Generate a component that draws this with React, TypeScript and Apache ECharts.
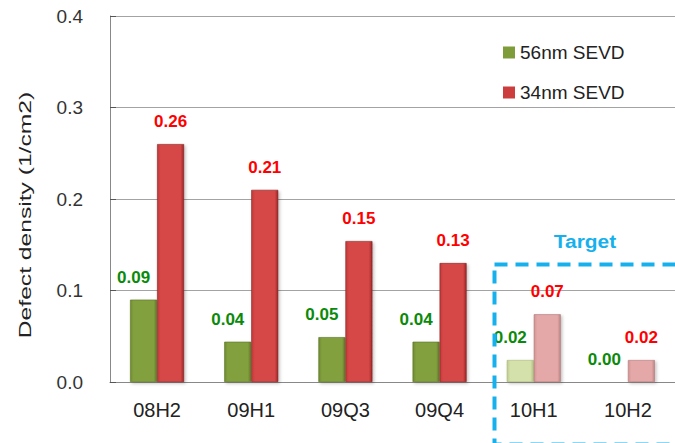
import React, { useEffect, useRef } from "react";
import * as echarts from "echarts";

const categories = ["08H2", "09H1", "09Q3", "09Q4", "10H1", "10H2"];
const sevd56 = [0.09, 0.044, 0.049, 0.044, 0.024, 0.0];
const sevd34 = [0.26, 0.21, 0.154, 0.13, 0.074, 0.024];
const targetFrom = 4; // periods from this index on are targets
const yTicks = [0, 0.1, 0.2, 0.3, 0.4];

const FONT = "'Liberation Sans', Arial, sans-serif";
const CYAN = "#16b1ec";

const bevel = (edgeL: string, mid: string, edgeR: string) =>
  new echarts.graphic.LinearGradient(0, 0, 1, 0, [
    { offset: 0, color: edgeL },
    { offset: 0.12, color: mid },
    { offset: 0.88, color: mid },
    { offset: 1, color: edgeR },
  ]);

const greenSolid = () => bevel("#6e8a31", "#82a03e", "#607a27");
const greenPale = () => bevel("#bccb8e", "#d4e1ab", "#b5c585");
const redSolid = () => bevel("#bf3a3a", "#d64646", "#9a2828");
const redPale = () => bevel("#d09494", "#e4a8a8", "#bf8585");

const shadow = {
  shadowBlur: 3,
  shadowColor: "rgba(0,0,0,0.25)",
  shadowOffsetX: 1.5,
  shadowOffsetY: 1.5,
};

export default function App() {
  const ref = useRef<HTMLDivElement>(null);

  useEffect(() => {
    document.body.style.margin = "0";
    if (!ref.current) return;
    const chart = echarts.init(ref.current, null, { renderer: "svg" });

    const greenData = sevd56.map((v, i) => ({
      value: v,
      itemStyle: {
        color: i >= targetFrom ? greenPale() : greenSolid(),
        borderColor: i >= targetFrom ? "#a9b97a" : "#5a7224",
        borderWidth: v > 0 ? 0.6 : 0,
        ...(v > 0 ? shadow : {}),
      },
    }));
    const redData = sevd34.map((v, i) => ({
      value: v,
      itemStyle: {
        color: i >= targetFrom ? redPale() : redSolid(),
        borderColor: i >= targetFrom ? "#b07878" : "#852020",
        borderWidth: 0.6,
        ...shadow,
      },
    }));

    const valueLabel = (color: string, offsetX: number) => ({
      show: true,
      position: "top",
      distance: 14,
      offset: [offsetX, 0],
      color,
      fontWeight: "bold",
      fontSize: 17,
      fontFamily: FONT,
      formatter: (p: any) => Number(p.value).toFixed(2),
    });

    chart.setOption({
      animation: false,
      backgroundColor: "#ffffff",
      textStyle: { fontFamily: FONT },
      grid: { left: 110, right: -7, top: 16, bottom: 61 },
      legend: {
        orient: "vertical",
        left: 498,
        top: 38,
        itemWidth: 12,
        itemHeight: 12,
        itemGap: 21,
        icon: "rect",
        textStyle: { fontSize: 19, color: "#222", fontFamily: FONT },
        data: [
          { name: "56nm SEVD", itemStyle: { color: "#7f9c3b" } },
          { name: "34nm SEVD", itemStyle: { color: "#cc3e3e" } },
        ],
      },
      xAxis: {
        type: "category",
        data: categories,
        axisLine: { lineStyle: { color: "#888", width: 1.2 } },
        axisTick: { length: 6, lineStyle: { color: "#555" } },
        axisLabel: { fontSize: 20, color: "#222", margin: 18, fontFamily: FONT },
      },
      yAxis: {
        type: "value",
        min: 0,
        max: 0.4,
        interval: 0.1,
        axisLine: { show: true, lineStyle: { color: "#888" } },
        axisTick: { show: true, inside: true, length: 6, lineStyle: { color: "#555" } },
        splitLine: { lineStyle: { color: "#a3a3a3" } },
        axisLabel: {
          fontSize: 19,
          color: "#333",
          margin: 27,
          fontFamily: FONT,
          formatter: (v: number) =>
            yTicks.includes(Number(v.toFixed(1))) ? v.toFixed(1) : "",
        },
      },
      series: [
        {
          name: "56nm SEVD",
          type: "bar",
          barWidth: 27,
          barGap: "0%",
          data: greenData,
          label: valueLabel("#0a8a0a", -10),
        },
        {
          name: "34nm SEVD",
          type: "bar",
          barWidth: 27,
          barGap: "0%",
          data: redData,
          label: valueLabel("#ff0000", 0),
        },
      ],
      graphic: [
        // axis title, set along the axis
        {
          type: "text",
          x: 25,
          y: 215,
          rotation: Math.PI / 2,
          scaleX: 1.45,
          style: {
            text: "Defect density (1/cm2)",
            fill: "#222",
            font: `17px ${FONT}`,
            align: "center",
            verticalAlign: "middle",
          },
        },
        // dashed frame round the target periods
        {
          type: "rect",
          left: 492,
          top: 262,
          shape: { width: 260, height: 180 },
          style: {
            fill: "none",
            stroke: CYAN,
            lineWidth: 4,
            lineDash: [13, 8],
          },
          z: 10,
        },
        {
          type: "text",
          x: 585,
          y: 241,
          scaleX: 1.1,
          style: {
            text: "Target",
            fill: CYAN,
            font: `bold 19px ${FONT}`,
            align: "center",
            verticalAlign: "middle",
          },
          z: 10,
        },
      ],
    });

    return () => chart.dispose();
  }, []);

  return <div ref={ref} style={{ width: 675, height: 443 }} />;
}
